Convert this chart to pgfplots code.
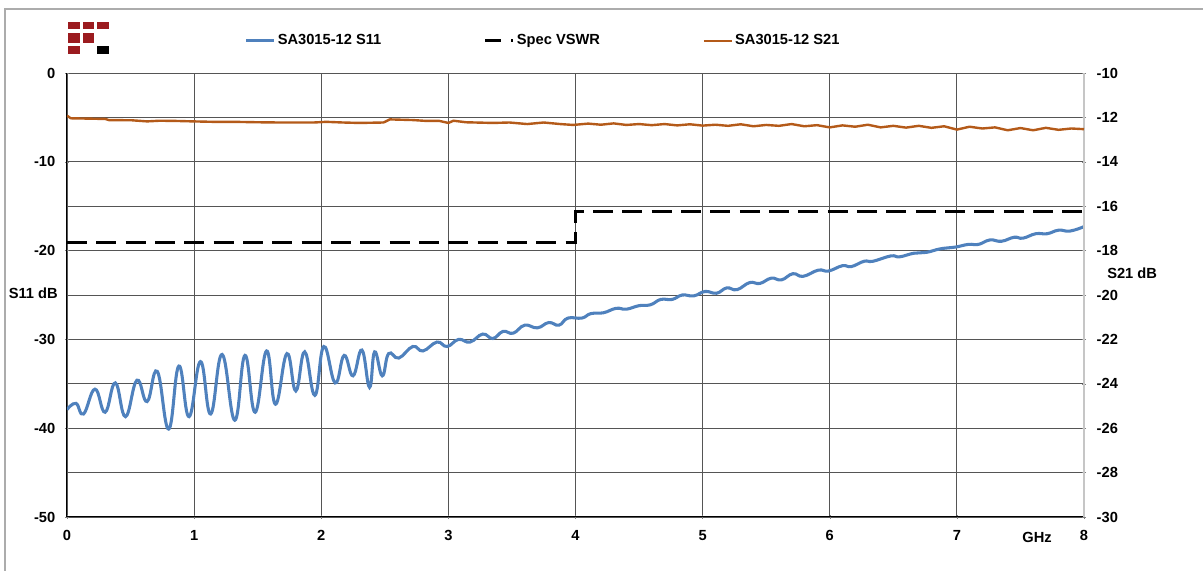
\documentclass[border=0pt]{standalone}
\usepackage{pgfplots}
\pgfplotsset{compat=1.18}
\usepackage{fontspec}
\setmainfont{Liberation Sans}

\definecolor{sone}{RGB}{79,129,189}
\definecolor{stwo}{RGB}{180,90,25}
\definecolor{logored}{RGB}{155,27,31}
\definecolor{gridc}{RGB}{85,85,85}
\newcommand{\lbl}{\fontsize{11}{13}\selectfont\bfseries}

\pgfplotsset{
  common/.style={
    scale only axis, width=762.75pt, height=333pt,
    at={(0,0)}, anchor=south west,
    xmin=0, xmax=8,
    tick align=outside, major tick length=3pt, minor tick length=0pt,
    /pgf/number format/assume math mode=true,
    tick label style={font=\lbl},
  },
}

\begin{document}
\begin{tikzpicture}
\path[use as bounding box] (-50.25pt,-40.5pt) rectangle (852pt,387.75pt);

% S11 + spec, left axis
\begin{axis}[common,
  ymin=-50, ymax=0,
  axis x line=bottom, axis y line=left,
  axis line style={-, black, line width=0.75pt},
  xtick={0,...,8},
  ytick={-50,-40,...,0}, minor ytick={-45,-35,...,-5},
  xticklabel style={yshift=-5pt},
  yticklabel style={xshift=-3.75pt},
  grid=both,
  major grid style={gridc, line width=0.7pt},
  minor grid style={gridc, line width=0.7pt},
  legend columns=3,
  legend style={at={(0.1745,1.0725)}, anchor=west, draw=none, fill=none,
    inner sep=0pt, font=\lbl, nodes={inner sep=0pt},
    /tikz/every odd column/.append style={column sep=1.5pt},
    /tikz/every even column/.append style={column sep=77pt}},
  legend image code/.code={\draw[#1] (0pt,0pt) -- (21pt,0pt);},
]
\addplot[sone, line width=2.3pt, smooth, tension=0.75] coordinates {
(0,-37.9)(0.07,-37.2)(0.13,-38.4)(0.22,-35.6)(0.30,-38.2)(0.38,-34.9)
(0.46,-38.7)(0.55,-34.6)(0.63,-37.0)(0.71,-33.6)(0.80,-40.1)(0.88,-33.0)
(0.96,-38.7)(1.05,-32.5)(1.13,-38.4)(1.22,-31.7)(1.32,-39.1)(1.40,-31.8)
(1.48,-38.2)(1.57,-31.3)(1.64,-37.3)(1.73,-31.6)(1.80,-35.8)(1.87,-31.4)
(1.95,-36.3)(2.02,-30.8)(2.11,-34.9)(2.18,-31.8)(2.25,-34.1)(2.32,-31.2)
(2.38,-35.4)(2.42,-31.4)(2.48,-34.1)(2.53,-31.6)(2.61,-32.1)(2.72,-30.8)
(2.80,-31.3)(2.91,-30.3)(2.99,-30.8)(3.08,-30.0)(3.17,-30.3)(3.27,-29.4)
(3.35,-29.9)(3.43,-29.1)(3.51,-29.3)(3.60,-28.4)(3.70,-28.7)(3.79,-28.1)
(3.87,-28.4)(3.94,-27.6)(4.05,-27.6)(4.12,-27.1)(4.22,-27.0)(4.32,-26.5)
(4.40,-26.6)(4.50,-26.2)(4.59,-26.1)(4.67,-25.5)(4.76,-25.5)(4.84,-25.0)
(4.93,-25.1)(5.02,-24.6)(5.11,-24.8)(5.19,-24.2)(5.27,-24.4)(5.37,-23.6)
(5.45,-23.7)(5.54,-23.1)(5.62,-23.3)(5.71,-22.6)(5.79,-22.9)(5.91,-22.2)
(5.99,-22.3)(6.10,-21.7)(6.17,-21.8)(6.27,-21.2)(6.34,-21.2)(6.48,-20.6)
(6.55,-20.7)(6.66,-20.3)(6.76,-20.2)(6.87,-19.8)(6.99,-19.6)(7.09,-19.3)
(7.17,-19.3)(7.26,-18.8)(7.35,-18.95)(7.45,-18.5)(7.52,-18.6)(7.62,-18.1)
(7.71,-18.1)(7.80,-17.7)(7.89,-17.8)(8.0,-17.3)
};
\addlegendentry{SA3015-12 S11}
\addplot[black, line width=2.2pt, dash pattern=on 15pt off 7pt,
  legend image code/.code={
    \draw[black, line width=2.2pt] (0pt,0pt) -- (12pt,0pt);
    \draw[black, line width=2.2pt] (19.5pt,0pt) -- (21pt,0pt);}]
  coordinates {(0,-19.08)(4,-19.08)(4,-15.56)(8,-15.56)};
\addlegendentry{Spec VSWR}
\addlegendimage{stwo, line width=1.8pt}
\addlegendentry{SA3015-12 S21}
\end{axis}

% S21, right axis
\begin{axis}[common,
  ymin=-30, ymax=-10,
  ytick={-30,-28,...,-10},
  yticklabel style={xshift=4.5pt},
  axis x line=none, axis y line=right,
  axis line style={-, gray!45, line width=1.3pt},
]
\addplot[stwo, line width=1.8pt] coordinates {
(0,-11.92)(0.03,-12.04)(0.30,-12.07)(0.33,-12.12)(0.51,-12.13)(0.63,-12.18)
(0.73,-12.15)(0.86,-12.16)(0.99,-12.18)(1.15,-12.20)(1.31,-12.20)(1.51,-12.22)
(1.67,-12.23)(1.94,-12.23)(2.04,-12.20)(2.17,-12.23)(2.30,-12.25)(2.49,-12.23)
(2.54,-12.09)(2.72,-12.12)(2.83,-12.16)(2.93,-12.16)(3.00,-12.25)(3.04,-12.15)
(3.14,-12.22)(3.35,-12.25)(3.48,-12.23)(3.62,-12.30)(3.75,-12.23)(3.88,-12.30)
(3.98,-12.34)(4.1,-12.28)(4.2,-12.33)(4.3,-12.27)(4.4,-12.34)(4.5,-12.30)
(4.6,-12.35)(4.7,-12.30)(4.8,-12.36)(4.9,-12.31)(5.0,-12.37)(5.1,-12.33)
(5.2,-12.38)(5.3,-12.31)(5.4,-12.40)(5.5,-12.34)(5.6,-12.38)(5.7,-12.30)
(5.8,-12.40)(5.9,-12.35)(6.0,-12.45)(6.1,-12.36)(6.2,-12.42)(6.3,-12.33)
(6.4,-12.45)(6.5,-12.38)(6.6,-12.46)(6.7,-12.38)(6.8,-12.47)(6.9,-12.40)
(7.0,-12.55)(7.1,-12.42)(7.2,-12.50)(7.3,-12.45)(7.4,-12.58)(7.5,-12.48)
(7.6,-12.58)(7.7,-12.47)(7.8,-12.56)(7.9,-12.50)(8.0,-12.53)
};
\end{axis}

% frame, logo and labels, in reference pixels
\begin{scope}[x=0.75pt, y=-0.75pt, shift={(-50.25pt,387.75pt)}]
  \draw[gray!65, line width=0.8pt] (5,580) -- (5,9) -- (1210,9);
  \fill[logored] (68.3,21.7) rectangle (80,29.3);
  \fill[logored] (82.7,21.7) rectangle (94.4,29.3);
  \fill[logored] (97,21.7) rectangle (108.7,29.3);
  \fill[logored] (68.3,33.3) rectangle (80,42.7);
  \fill[logored] (82.7,33.3) rectangle (94.4,42.7);
  \fill[logored] (68.3,45.7) rectangle (80,54);
  \fill[black] (97,45.7) rectangle (108.7,54);
  \node[anchor=east, inner sep=0pt, font=\lbl] at (58,293) {S11 dB};
  \node[anchor=west, inner sep=0pt, font=\lbl] at (1107,273) {S21 dB};
  \node[inner sep=0pt, font=\lbl] at (1037,537) {GHz};
\end{scope}
\end{tikzpicture}
\end{document}
